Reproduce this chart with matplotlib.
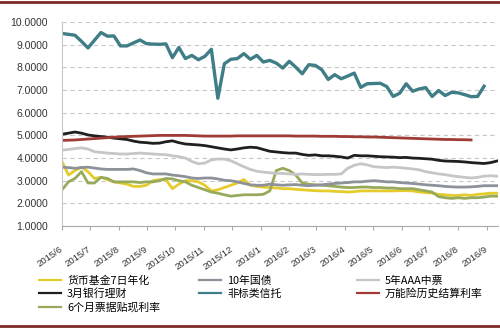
import pandas as pd
import matplotlib
matplotlib.use('Agg')
import matplotlib.pyplot as plt
import matplotlib.dates as mdates
from matplotlib.lines import Line2D

plt.rcParams['font.family'] = ['Liberation Sans', 'Noto Sans CJK SC', 'DejaVu Sans']

# weekly observations, Jun 2015 - Sep 2016
weeks = pd.date_range('2015-06-01', periods=68, freq='7D')

money_fund = [3.85, 3.25, 3.45, 3.60, 3.40, 3.10, 3.15, 3.05, 2.95, 2.90,
              2.85, 2.75, 2.75, 2.80, 3.00, 3.05, 3.05, 2.65, 2.85, 3.00,
              3.00, 2.95, 2.80, 2.55, 2.60, 2.70, 2.80, 2.90, 3.05, 2.80,
              2.75, 2.72, 2.70, 2.68, 2.65, 2.65, 2.62, 2.60, 2.58, 2.56,
              2.55, 2.55, 2.53, 2.52, 2.50, 2.52, 2.55, 2.55, 2.55, 2.55,
              2.55, 2.55, 2.56, 2.56, 2.55, 2.50, 2.48, 2.45, 2.40, 2.38,
              2.35, 2.35, 2.38, 2.35, 2.40, 2.42, 2.45, 2.45]

bank_wmp = [5.05, 5.10, 5.15, 5.10, 5.02, 4.98, 4.95, 4.92, 4.88, 4.85,
            4.82, 4.75, 4.70, 4.68, 4.65, 4.66, 4.72, 4.76, 4.68, 4.62,
            4.60, 4.58, 4.55, 4.50, 4.45, 4.40, 4.36, 4.40, 4.45, 4.48,
            4.46, 4.38, 4.30, 4.27, 4.24, 4.22, 4.22, 4.16, 4.12, 4.14,
            4.10, 4.10, 4.08, 4.05, 4.00, 4.12, 4.10, 4.10, 4.08, 4.06,
            4.05, 4.04, 4.02, 4.03, 4.00, 3.99, 3.97, 3.95, 3.90, 3.87,
            3.86, 3.85, 3.83, 3.80, 3.78, 3.76, 3.80, 3.87]

bill_discount = [2.60, 2.95, 3.10, 3.40, 2.90, 2.90, 3.15, 3.10, 2.95, 2.95,
                 2.95, 2.95, 2.92, 2.95, 2.95, 3.00, 3.10, 3.08, 3.00, 2.95,
                 2.80, 2.70, 2.60, 2.50, 2.45, 2.38, 2.32, 2.35, 2.38, 2.38,
                 2.38, 2.40, 2.55, 3.45, 3.55, 3.45, 3.25, 2.90, 2.85, 2.82,
                 2.80, 2.78, 2.75, 2.72, 2.70, 2.70, 2.72, 2.72, 2.70, 2.70,
                 2.68, 2.68, 2.65, 2.65, 2.65, 2.60, 2.55, 2.50, 2.30, 2.25,
                 2.22, 2.25, 2.22, 2.25, 2.25, 2.28, 2.32, 2.32]

govt_10y = [3.60, 3.58, 3.55, 3.58, 3.60, 3.56, 3.52, 3.50, 3.50, 3.50,
            3.50, 3.52, 3.45, 3.35, 3.30, 3.30, 3.30, 3.25, 3.22, 3.18,
            3.12, 3.10, 3.12, 3.12, 3.08, 3.02, 3.00, 2.95, 2.88, 2.82,
            2.80, 2.80, 2.85, 2.82, 2.80, 2.82, 2.83, 2.80, 2.78, 2.80,
            2.82, 2.85, 2.88, 2.90, 2.92, 2.95, 2.95, 2.98, 3.00, 2.98,
            2.95, 2.95, 2.92, 2.90, 2.88, 2.85, 2.82, 2.80, 2.78, 2.75,
            2.73, 2.72, 2.72, 2.73, 2.75, 2.78, 2.78, 2.78]

trust = [9.50, 9.46, 9.42, 9.15, 8.86, 9.20, 9.54, 9.38, 9.39, 8.95,
         8.95, 9.08, 9.21, 9.05, 9.03, 9.02, 9.04, 8.43, 8.88, 8.39,
         8.53, 8.34, 8.49, 8.80, 6.64, 8.16, 8.36, 8.39, 8.61, 8.36,
         8.53, 8.24, 8.31, 8.19, 7.97, 8.27, 8.01, 7.72, 8.12, 8.09,
         7.90, 7.47, 7.68, 7.50, 7.62, 7.75, 7.12, 7.28, 7.29, 7.30,
         7.16, 6.72, 6.86, 7.28, 6.95, 7.05, 7.11, 6.72, 6.98, 6.76,
         6.90, 6.88, 6.80, 6.71, 6.72, 7.17]

mtn_aaa_5y = [4.35, 4.38, 4.42, 4.45, 4.40, 4.28, 4.25, 4.22, 4.20, 4.18,
              4.18, 4.20, 4.22, 4.20, 4.18, 4.16, 4.15, 4.10, 4.06, 4.00,
              3.85, 3.75, 3.78, 3.92, 3.96, 3.95, 3.88, 3.75, 3.62, 3.50,
              3.42, 3.38, 3.35, 3.33, 3.32, 3.30, 3.28, 3.30, 3.28, 3.27,
              3.27, 3.28, 3.28, 3.30, 3.55, 3.68, 3.75, 3.70, 3.62, 3.60,
              3.58, 3.60, 3.58, 3.55, 3.52, 3.48, 3.40, 3.35, 3.30, 3.27,
              3.22, 3.18, 3.15, 3.12, 3.15, 3.20, 3.22, 3.20]

universal_life = [4.78, 4.79, 4.80, 4.82, 4.84, 4.86, 4.88, 4.90, 4.92, 4.94,
                  4.95, 4.96, 4.97, 4.98, 4.99, 5.00, 5.00, 5.00, 5.00, 5.00,
                  4.99, 4.98, 4.97, 4.97, 4.97, 4.97, 4.97, 4.98, 4.98, 4.98,
                  4.98, 4.98, 4.98, 4.98, 4.98, 4.98, 4.97, 4.97, 4.97, 4.97,
                  4.96, 4.96, 4.96, 4.95, 4.95, 4.94, 4.94, 4.93, 4.93, 4.92,
                  4.91, 4.90, 4.89, 4.88, 4.87, 4.86, 4.85, 4.84, 4.83, 4.82,
                  4.82, 4.81, 4.81, 4.80]

series = [
    ('货币基金7日年化', money_fund, '#E5CC2B', 2.0),
    ('3月银行理财', bank_wmp, '#1F1F1F', 2.0),
    ('6个月票据贴现利率', bill_discount, '#97AA5C', 2.0),
    ('10年国债', govt_10y, '#8C919A', 2.0),
    ('非标类信托', trust, '#3F7D87', 2.4),
    ('5年AAA中票', mtn_aaa_5y, '#C6C6C6', 2.0),
    ('万能险历史结算利率', universal_life, '#9E3B35', 2.0),
]

fig = plt.figure(figsize=(5, 3.3), dpi=100)
ax = fig.add_axes([0.124, 0.315, 0.872, 0.618])

handles = []
for name, vals, color, lw in series:
    line, = ax.plot(weeks[:len(vals)], vals, color=color, lw=lw, label=name)
    handles.append(line)

ax.set_ylim(1, 10)
ax.set_yticks(range(1, 11))
ax.set_yticklabels(['%.4f' % v for v in range(1, 11)])
ax.set_xlim(pd.Timestamp('2015-06-01'), pd.Timestamp('2016-09-13'))
ax.xaxis.set_major_locator(mdates.MonthLocator())
ax.xaxis.set_major_formatter(mdates.DateFormatter('%Y/%-m'))

ax.grid(axis='y', color='#C8C8C8', linestyle=(0, (4, 3)), lw=0.8)
ax.set_axisbelow(True)
for side in ['top', 'right']:
    ax.spines[side].set_visible(False)
ax.spines['left'].set_color('#C8C8C8')
ax.spines['bottom'].set_color('#A8A8A8')

ax.tick_params(axis='y', length=0, pad=10, labelsize=7.5, labelcolor='#333333')
ax.tick_params(axis='x', length=3, color='#A8A8A8', pad=13, labelsize=6.8,
               labelcolor='#333333')
fig.canvas.draw()
for lab in ax.get_xticklabels():
    lab.set_rotation(35)
    lab.set_rotation_mode('anchor')
    lab.set_ha('right')
    lab.set_va('center')

# legend in three columns with uneven spacing
leg_kw = dict(frameon=False, handlelength=2.0, handletextpad=0.6,
              labelspacing=0.25, borderaxespad=0, borderpad=0,
              prop={'family': ['Noto Sans CJK SC', 'DejaVu Sans'], 'size': 7.8})
cols = [(handles[0:3], 0.078), (handles[3:5], 0.398), (handles[5:7], 0.714)]
for hs, x0 in cols:
    leg = fig.legend(hs, [h.get_label() for h in hs], loc='upper left',
                     bbox_to_anchor=(x0, 0.165), **leg_kw)
    for ln in leg.get_lines():
        ln.set_linewidth(1.6)

# dark red rules at top and bottom
fig.add_artist(Line2D([0, 1], [0.994, 0.994], transform=fig.transFigure,
                      color='#7E2A26', lw=2))
fig.add_artist(Line2D([0, 1], [0.011, 0.011], transform=fig.transFigure,
                      color='#7E2A26', lw=2))

fig.savefig('out.png', dpi=100)
